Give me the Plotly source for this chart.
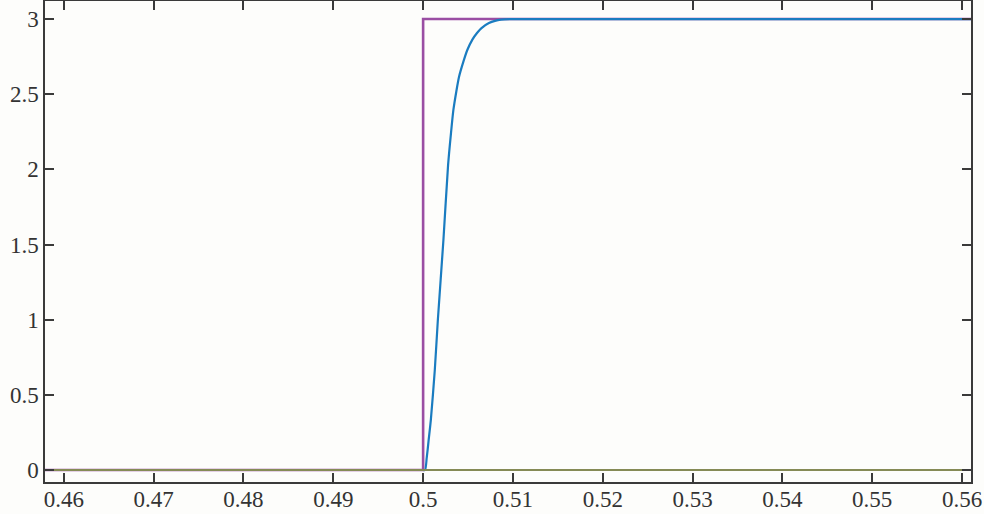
import plotly.graph_objects as go

# Blue response curve
t_resp = [0.4579, 0.5000, 0.50022, 0.50040, 0.50060, 0.50086, 0.50130, 0.50164,
          0.50226, 0.50278, 0.50310, 0.50337, 0.50370, 0.50400, 0.50450, 0.50492,
          0.50550, 0.50600, 0.50650, 0.50733, 0.50800, 0.50867, 0.5100, 0.5610]
y_resp = [0.0, 0.0, 0.0, 0.08, 0.19, 0.333, 0.665, 0.998,
          1.53, 2.03, 2.24, 2.395, 2.52, 2.616, 2.72, 2.794,
          2.865, 2.907, 2.94, 2.973, 2.988, 2.996, 3.0, 3.0]

# Purple step reference
t_step = [0.4579, 0.5, 0.5, 0.5610]
y_step = [0.0, 0.0, 3.0, 3.0]

# Olive zero line
t_zero = [0.4579, 0.5610]
y_zero = [0.0, 0.0]

x_ticks = [0.46, 0.47, 0.48, 0.49, 0.50, 0.51, 0.52, 0.53, 0.54, 0.55, 0.56]
x_labels = ["0.46", "0.47", "0.48", "0.49", "0.5", "0.51", "0.52", "0.53", "0.54", "0.55", "0.56"]
y_ticks = [0, 0.5, 1, 1.5, 2, 2.5, 3]
y_labels = ["0", "0.5", "1", "1.5", "2", "2.5", "3"]

fig = go.Figure()
fig.add_trace(go.Scatter(x=t_step, y=y_step, mode="lines",
                         line=dict(color="#9a4ea3", width=2.6), showlegend=False))
fig.add_trace(go.Scatter(x=t_resp, y=y_resp, mode="lines",
                         line=dict(color="#1a7cc0", width=2.2, shape="spline", smoothing=0.6),
                         showlegend=False))
fig.add_trace(go.Scatter(x=t_zero, y=y_zero, mode="lines",
                         line=dict(color="#858a55", width=1.8), showlegend=False))

axis_common = dict(showline=True, linecolor="#3a3a3a", linewidth=1.5, mirror="ticks",
                   ticks="inside", ticklen=9, tickwidth=1.5, tickcolor="#3a3a3a",
                   showgrid=False, zeroline=False, automargin=False,
                   tickfont=dict(family="Liberation Serif, Times New Roman, serif",
                                 size=23, color="#333333"))

fig.update_layout(
    width=984, height=514,
    margin=dict(l=45, r=13, t=1, b=32),
    paper_bgcolor="#fdfdfb", plot_bgcolor="#fdfdfb",
    xaxis=dict(range=[0.4579, 0.561], tickvals=x_ticks, ticktext=x_labels,
               ticklabelstandoff=-4, **axis_common),
    yaxis=dict(range=[-0.08, 3.12], tickvals=y_ticks, ticktext=y_labels, **axis_common),
)

fig.write_html("out.html", config={"displayModeBar": False},
               post_script="document.body.style.margin='0';document.body.style.background='#fdfdfb';")
